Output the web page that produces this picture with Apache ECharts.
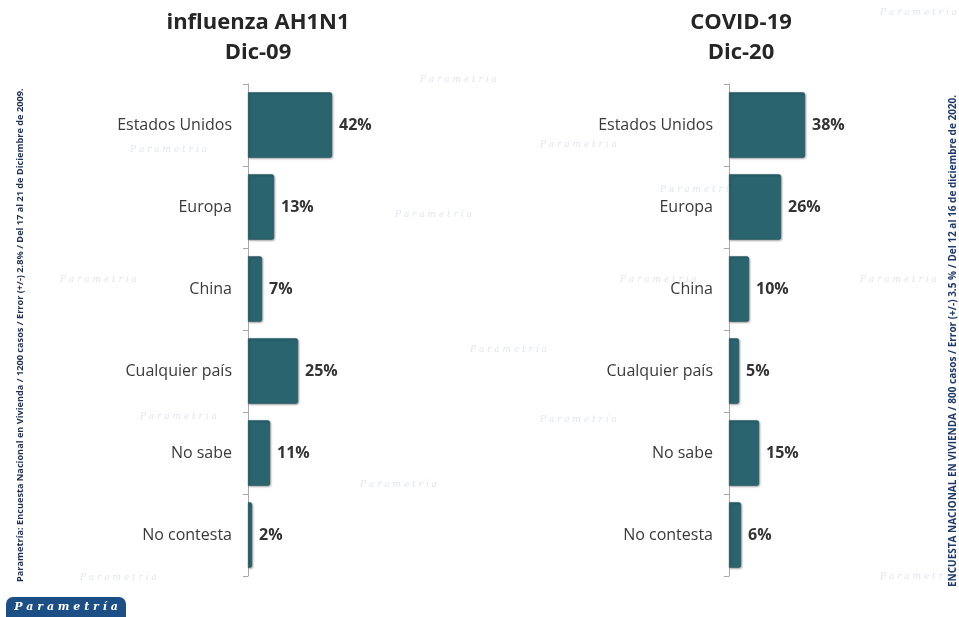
<!DOCTYPE html>
<html>
<head>
<meta charset="utf-8">
<script src="https://cdn.jsdelivr.net/npm/echarts@6/dist/echarts.min.js"></script>
<style>
  html, body { margin: 0; padding: 0; background: #fff; }
  #chart { width: 959px; height: 617px; }
</style>
</head>
<body>
<div id="chart"></div>
<script>
var categories = ["Estados Unidos", "Europa", "China", "Cualquier país", "No sabe", "No contesta"];
var values2009 = [42, 13, 7, 25, 11, 2];
var values2020 = [38, 26, 10, 5, 15, 6];
var titles = ["influenza AH1N1\nDic-09", "COVID-19\nDic-20"];
var noteLeft = "Parametría: Encuesta Nacional en Vivienda / 1200 casos / Error (+/-) 2.8% / Del 17 al 21 de Diciembre de 2009.";
var noteRight = "ENCUESTA NACIONAL EN VIVIENDA / 800 casos / Error (+/-) 3.5 % / Del 12 al 16 de diciembre de 2020.";

var font = "'Open Sans', 'Noto Sans', sans-serif";
var barColor = "#29646f";

var chart = echarts.init(document.getElementById("chart"));

function yAxisFor(idx) {
  return {
    type: "category",
    gridIndex: idx,
    data: categories,
    inverse: true,
    axisLine: { show: true, lineStyle: { color: "#a9a9a9", width: 1 } },
    axisTick: { show: true, length: 5, lineStyle: { color: "#a9a9a9" } },
    axisLabel: {
      margin: 16,
      fontFamily: font,
      fontSize: 16,
      color: "#3a3a3a"
    }
  };
}

function xAxisFor(idx) {
  return {
    type: "value",
    gridIndex: idx,
    min: 0,
    max: 100,
    show: false,
    splitLine: { show: false }
  };
}

function seriesFor(idx, data) {
  return {
    type: "bar",
    xAxisIndex: idx,
    yAxisIndex: idx,
    data: data,
    barCategoryGap: "20%",
    itemStyle: {
      color: barColor,
      borderColor: "#1f4f58",
      borderWidth: 0.5,
      borderRadius: [0, 2, 2, 0],
      shadowColor: "rgba(0,0,0,0.35)",
      shadowBlur: 2,
      shadowOffsetX: 1,
      shadowOffsetY: 1
    },
    label: {
      show: true,
      position: "right",
      distance: 7,
      formatter: "{c}%",
      fontFamily: font,
      fontWeight: "bold",
      fontSize: 16,
      color: "#333"
    },
    emphasis: { disabled: true }
  };
}

// faint watermark
var marks = [
  [60, 275], [140, 412], [420, 75], [395, 210], [540, 140], [620, 275],
  [470, 345], [80, 573], [540, 415], [660, 185], [860, 275], [880, 572],
  [880, 8], [360, 480], [130, 145]
];
var watermark = marks.map(function (p) {
  return {
    type: "text",
    left: p[0],
    top: p[1],
    silent: true,
    z: -1,
    style: {
      text: "P a r a m e t r í a",
      fontFamily: "'DejaVu Serif', serif",
      fontStyle: "italic",
      fontSize: 9,
      fill: "#e2e6eb"
    }
  };
});

var option = {
  backgroundColor: "#ffffff",
  animation: false,
  title: [
    {
      text: titles[0],
      left: 253,
      top: 3,
      textAlign: "center",
      textStyle: { fontFamily: font, fontSize: 22, fontWeight: "bold", color: "#262626", lineHeight: 30 }
    },
    {
      text: titles[1],
      left: 736,
      top: 3,
      textAlign: "center",
      textStyle: { fontFamily: font, fontSize: 22, fontWeight: "bold", color: "#262626", lineHeight: 30 }
    }
  ],
  grid: [
    { left: 248, top: 84, width: 200, height: 492 },
    { left: 729, top: 84, width: 200, height: 492 }
  ],
  xAxis: [xAxisFor(0), xAxisFor(1)],
  yAxis: [yAxisFor(0), yAxisFor(1)],
  series: [seriesFor(0, values2009), seriesFor(1, values2020)],
  graphic: watermark.concat([
    {
      type: "text",
      x: 25,
      y: 582,
      rotation: Math.PI / 2,
      silent: true,
      style: {
        text: noteLeft,
        fontFamily: font,
        fontSize: 9.2,
        fontWeight: "bold",
        fill: "#1d2f55",
        verticalAlign: "bottom"
      }
    },
    {
      type: "text",
      x: 958,
      y: 587,
      rotation: Math.PI / 2,
      silent: true,
      style: {
        text: noteRight,
        fontFamily: font,
        fontSize: 10,
        fontWeight: "bold",
        fill: "#1d3a6b",
        verticalAlign: "bottom"
      }
    },
    {
      type: "rect",
      shape: { x: 6, y: 597, width: 120, height: 24, r: [7, 7, 0, 0] },
      silent: true,
      style: { fill: "#1b4f86" }
    },
    {
      type: "text",
      x: 66,
      y: 607,
      silent: true,
      style: {
        text: "P a r a m e t r í a",
        fontFamily: "'DejaVu Serif', serif",
        fontStyle: "italic",
        fontWeight: "bold",
        fontSize: 11,
        fill: "#ffffff",
        align: "center",
        verticalAlign: "middle"
      }
    }
  ])
};

chart.setOption(option);
</script>
</body>
</html>
